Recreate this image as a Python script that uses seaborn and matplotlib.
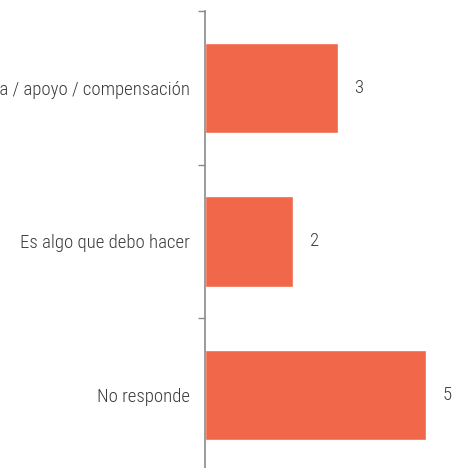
import numpy as np
import pandas as pd
import matplotlib
matplotlib.use("Agg")
import matplotlib.pyplot as plt
import seaborn as sns
from matplotlib.ticker import FixedLocator, NullFormatter

categories = ["Ayuda / apoyo / compensación", "Es algo que debo hacer", "No responde"]
values = [3, 2, 5]

BAR_COLOR = "#F0674A"
TEXT_COLOR = "#3a3a3a"
AXIS_COLOR = "#8a8a8a"

sns.set_style("white")
plt.rcParams["font.family"] = ["Roboto Condensed", "Archivo Narrow", "DejaVu Sans"]

df = pd.DataFrame({"categoria": categories, "valor": values})

fig = plt.figure(figsize=(4.56, 4.68), dpi=100)
ax = fig.add_axes([205 / 456, -4 / 468, 251 / 456, 461 / 468])

sns.barplot(data=df, x="valor", y="categoria", orient="h", color=BAR_COLOR,
            saturation=1, width=0.59, ax=ax)

ax.set_xlim(0, 251 / 44.2)
ax.set_ylim(2.5, -0.5)

# category labels at bar centres, separator ticks at boundaries
ax.yaxis.set_minor_locator(FixedLocator([-0.5, 0.5, 1.5, 2.5]))
ax.yaxis.set_minor_formatter(NullFormatter())
ax.tick_params(axis="y", which="major", length=0, pad=11, labelsize=13.5, labelcolor=TEXT_COLOR)
ax.tick_params(axis="y", which="minor", length=5, width=1, color=AXIS_COLOR, left=True)
for lab in ax.get_yticklabels():
    lab.set_fontweight("light")
ax.set_xticks([])
ax.set_xlabel("")
ax.set_ylabel("")

for s in ["top", "right", "bottom"]:
    ax.spines[s].set_visible(False)
ax.spines["left"].set_color(AXIS_COLOR)
ax.spines["left"].set_linewidth(1.2)

for i, v in enumerate(values):
    ax.annotate(str(v), xy=(v, i), xytext=(12, 0), textcoords="offset points",
                va="center", ha="left", fontsize=13.5, fontweight="light", color=TEXT_COLOR)

fig.savefig("out.png", dpi=100)
